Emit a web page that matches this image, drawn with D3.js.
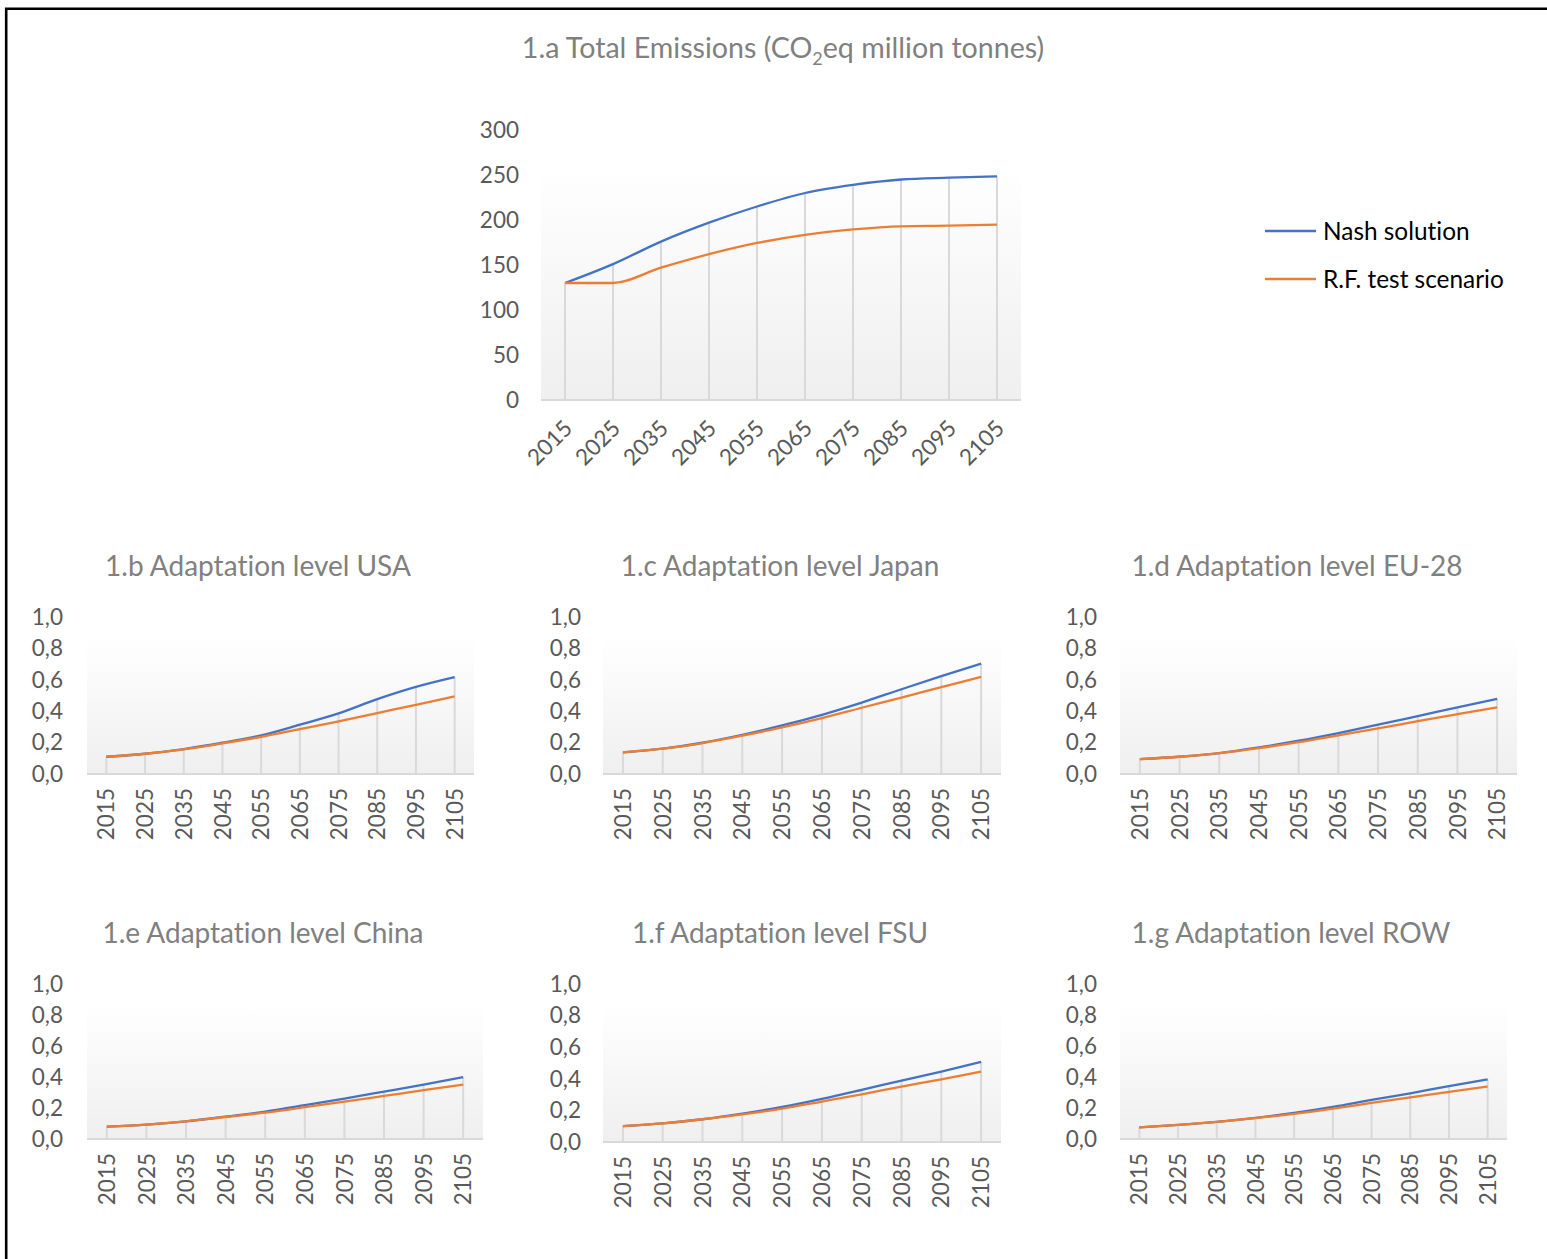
<!DOCTYPE html>
<html>
<head>
<meta charset="utf-8">
<script src="https://cdn.jsdelivr.net/npm/d3@7"></script>
<style>
  html, body { margin: 0; padding: 0; background: #fff; }
  svg { display: block; font-family: Lato, "Open Sans", sans-serif; font-variant-ligatures: none; font-feature-settings: "liga" 0; }
</style>
</head>
<body>
<svg id="fig" width="1547" height="1259"></svg>
<script>
// ---- data ----
const years = [2015, 2025, 2035, 2045, 2055, 2065, 2075, 2085, 2095, 2105];
const seriesNames = ["Nash solution", "R.F. test scenario"];

const emissionsNash = [130, 151, 176, 197, 215, 230, 239, 245, 247, 248.5];
const emissionsRF   = [130, 130, 147, 162, 174.5, 183.5, 189.5, 193, 193.7, 194.8];

const usaNash   = [0.110, 0.129, 0.159, 0.199, 0.246, 0.314, 0.386, 0.477, 0.555, 0.617];
const usaRF     = [0.110, 0.129, 0.157, 0.195, 0.237, 0.286, 0.335, 0.388, 0.441, 0.494];
const japanNash = [0.138, 0.161, 0.199, 0.250, 0.309, 0.377, 0.455, 0.540, 0.623, 0.703];
const japanRF   = [0.138, 0.161, 0.197, 0.244, 0.297, 0.356, 0.422, 0.487, 0.553, 0.619];
const euNash    = [0.095, 0.110, 0.133, 0.169, 0.212, 0.261, 0.314, 0.369, 0.424, 0.479];
const euRF      = [0.095, 0.110, 0.133, 0.165, 0.203, 0.246, 0.290, 0.337, 0.381, 0.424];
const chinaNash = [0.080, 0.093, 0.114, 0.144, 0.177, 0.218, 0.261, 0.306, 0.351, 0.399];
const chinaRF   = [0.080, 0.093, 0.114, 0.142, 0.170, 0.205, 0.241, 0.278, 0.315, 0.351];
const fsuNash   = [0.101, 0.118, 0.144, 0.180, 0.222, 0.273, 0.330, 0.389, 0.446, 0.507];
const fsuRF     = [0.101, 0.118, 0.144, 0.175, 0.211, 0.256, 0.302, 0.351, 0.397, 0.446];
const rowNash   = [0.075, 0.091, 0.110, 0.136, 0.168, 0.207, 0.252, 0.295, 0.341, 0.384];
const rowRF     = [0.075, 0.091, 0.110, 0.134, 0.162, 0.196, 0.233, 0.269, 0.304, 0.338];

const emissionsTicks = [0, 50, 100, 150, 200, 250, 300];
const adaptationTicks = [0, 0.2, 0.4, 0.6, 0.8, 1.0];

// ---- styling ----
const COLORS = ["#4472C4", "#ED7D31"];
const TICK_COLOR = "#595959";
const TITLE_COLOR = "#808080";
const GRID_COLOR = "#d9d9d9";
const TICK_SIZE = 22.5;
const TITLE_SIZE = 28;
const commaLocale = d3.formatLocale({decimal: ",", thousands: ".", grouping: [3], currency: ["", ""]});
const fmt1 = commaLocale.format(".1f");

const svg = d3.select("#fig");

// gradient used for every plot area
const defs = svg.append("defs");
const grad = defs.append("linearGradient").attr("id", "plotFill")
  .attr("x1", 0).attr("y1", 0).attr("x2", 0).attr("y2", 1);
grad.append("stop").attr("offset", "0%").attr("stop-color", "#ffffff");
grad.append("stop").attr("offset", "100%").attr("stop-color", "#efefef");

// frame (left and top edges)
svg.append("path")
  .attr("d", "M6.2,1259 V8.8 H1547")
  .attr("fill", "none").attr("stroke", "#000").attr("stroke-width", 2.6);

// ---- panel layout ----
const panels = [
  {title: "main", nash: emissionsNash, rf: emissionsRF, ticks: emissionsTicks, fmt: d3.format("d"),
   x0: 541, x1: 1021, yBase: 400, yTop: 130, labelRight: 519, titleX: 783, titleY: 58, rotate: -45, titleSize: 28.6},
  {title: "1.b Adaptation level USA", nash: usaNash, rf: usaRF, ticks: adaptationTicks, fmt: fmt1,
   x0: 87, x1: 474, yBase: 774, yTop: 617, labelRight: 63, titleX: 258, titleY: 576, rotate: -90},
  {title: "1.c Adaptation level Japan", nash: japanNash, rf: japanRF, ticks: adaptationTicks, fmt: fmt1,
   x0: 603, x1: 1001, yBase: 774, yTop: 617, labelRight: 581, titleX: 780, titleY: 576, rotate: -90},
  {title: "1.d Adaptation level EU-28", nash: euNash, rf: euRF, ticks: adaptationTicks, fmt: fmt1,
   x0: 1120, x1: 1517, yBase: 774, yTop: 617, labelRight: 1097, titleX: 1297, titleY: 576, rotate: -90},
  {title: "1.e Adaptation level China", nash: chinaNash, rf: chinaRF, ticks: adaptationTicks, fmt: fmt1,
   x0: 87, x1: 483, yBase: 1139, yTop: 984, labelRight: 63, titleX: 263, titleY: 943, rotate: -90},
  {title: "1.f Adaptation level FSU", nash: fsuNash, rf: fsuRF, ticks: adaptationTicks, fmt: fmt1,
   x0: 603, x1: 1001, yBase: 1142, yTop: 984, labelRight: 581, titleX: 780, titleY: 943, rotate: -90},
  {title: "1.g Adaptation level ROW", nash: rowNash, rf: rowRF, ticks: adaptationTicks, fmt: fmt1,
   x0: 1120, x1: 1507, yBase: 1139, yTop: 984, labelRight: 1097, titleX: 1291, titleY: 943, rotate: -90}
];

function drawPanel(p) {
  const g = svg.append("g");
  const x = d3.scalePoint().domain(years).range([p.x0, p.x1]).padding(0.5);
  const yMax = p.ticks[p.ticks.length - 1];
  const y = d3.scaleLinear().domain([0, yMax]).range([p.yBase, p.yTop]);

  // plot area fill
  const fillTop = y(yMax * 0.87);
  g.append("rect")
    .attr("x", p.x0).attr("y", fillTop)
    .attr("width", p.x1 - p.x0).attr("height", p.yBase - fillTop)
    .attr("fill", "url(#plotFill)");

  // drop lines from the higher series down to the axis
  g.append("g").selectAll("line").data(years).join("line")
    .attr("x1", d => x(d)).attr("x2", d => x(d))
    .attr("y1", p.yBase)
    .attr("y2", (d, i) => y(Math.max(p.nash[i], p.rf[i])))
    .attr("stroke", GRID_COLOR).attr("stroke-width", 2);

  // category axis line
  g.append("line")
    .attr("x1", p.x0).attr("x2", p.x1).attr("y1", p.yBase).attr("y2", p.yBase)
    .attr("stroke", GRID_COLOR).attr("stroke-width", 2);

  // value axis labels
  const yAxis = d3.axisLeft(y).tickValues(p.ticks).tickFormat(p.fmt).tickSize(0).tickPadding(0);
  const ya = g.append("g").attr("transform", `translate(${p.labelRight},0)`).call(yAxis);
  ya.select(".domain").remove();
  ya.selectAll("text").attr("fill", TICK_COLOR).attr("font-size", TICK_SIZE)
    .attr("font-family", "Lato, sans-serif");

  // category labels
  const xl = g.append("g").selectAll("text").data(years).join("text")
    .attr("fill", TICK_COLOR).attr("font-size", TICK_SIZE).attr("text-anchor", "end")
    .text(d => d);
  if (p.rotate === -90) {
    xl.attr("transform", d => `translate(${x(d)},${p.yBase + 14}) rotate(-90)`).attr("dy", "0.36em");
  } else {
    xl.attr("transform", d => `translate(${x(d) + 3},${p.yBase + 24}) rotate(-45)`).attr("dy", "0.36em");
  }

  // series lines (smoothed, no overshoot)
  const line = d3.line().x((d, i) => x(years[i])).y(d => y(d)).curve(d3.curveMonotoneX);
  [p.nash, p.rf].forEach((vals, k) => {
    g.append("path").datum(vals).attr("d", line)
      .attr("fill", "none").attr("stroke", COLORS[k]).attr("stroke-width", 2.3)
      .attr("stroke-linejoin", "round").attr("stroke-linecap", "butt");
  });

  // title
  const t = g.append("text").attr("x", p.titleX).attr("y", p.titleY)
    .attr("text-anchor", "middle").attr("fill", TITLE_COLOR).attr("font-size", p.titleSize || TITLE_SIZE);
  if (p.title === "main") {
    t.append("tspan").text("1.a Total Emissions (CO");
    t.append("tspan").text("2").attr("font-size", 18).attr("dy", 7);
    t.append("tspan").text("eq million tonnes)").attr("dy", -7);
  } else {
    t.text(p.title);
  }
}

panels.forEach(drawPanel);

// legend for the emissions chart
const legend = svg.append("g");
seriesNames.forEach((name, k) => {
  const ly = 231 + k * 48;
  legend.append("line").attr("x1", 1265).attr("x2", 1316).attr("y1", ly).attr("y2", ly)
    .attr("stroke", COLORS[k]).attr("stroke-width", 2.3);
  legend.append("text").attr("x", 1323).attr("y", ly).attr("dy", "0.36em")
    .attr("fill", "#000").attr("font-size", 24.4).text(name);
});
</script>
</body>
</html>
